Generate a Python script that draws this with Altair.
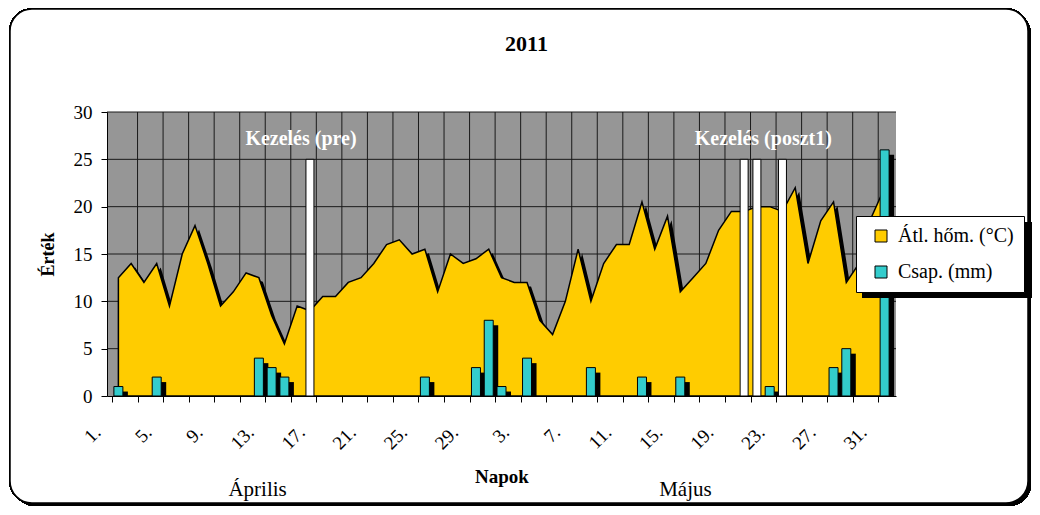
import json
import altair as alt
import pandas as pd

SERIF = "Liberation Serif"

# ---- data -------------------------------------------------------------
day_numbers = list(range(1, 31)) + list(range(1, 32))  # April 1-30, May 1-31
months = ["Április"] * 30 + ["Május"] * 31

temp = [12.5, 14, 12, 14, 9.5, 15, 18, 14, 9.5, 11,
        13, 12.5, 8.5, 5.5, 9.5, 9, 10.5, 10.5, 12, 12.5,
        14, 16, 16.5, 15, 15.5, 11, 15, 14, 14.5, 15.5,
        12.5, 12, 12, 8, 6.5, 10, 15.5, 10, 14, 16,
        16, 20.5, 15.5, 19, 11, 12.5, 14, 17.5, 19.5, 19.5,
        20, 20, 19.5, 22, 14, 18.5, 20.5, 12, 14, 19,
        22]

precip = [1, 0, 0, 2, 0, 0, 0, 0, 0, 0,
          0, 4, 3, 2, 0, 0, 0, 0, 0, 0,
          0, 0, 0, 0, 2, 0, 0, 0, 3, 8,
          1, 0, 4, 0, 0, 0, 0, 3, 0, 0,
          0, 2, 0, 0, 2, 0, 0, 0, 0, 0,
          0, 1, 0, 0, 0, 0, 3, 5, 0, 0,
          26]

kezeles = [0] * 15 + [25] + [0] * 33 + [25, 25, 0, 25] + [0] * 8

x_tick_labels = ["1.", "5.", "9.", "13.", "17.", "21.", "25.", "29.",
                 "3.", "7.", "11.", "15.", "19.", "23.", "27.", "31."]
y_tick_values = [0, 5, 10, 15, 20, 25, 30]

note_labels = ["Kezelés (pre)", "Kezelés (poszt1)"]
month_labels = ["Április", "Május"]
series_names = ["Átl. hőm. (°C)", "Csap. (mm)"]

# ---- layout helpers -----------------------------------------------------
W, H = 789, 284
n = len(day_numbers)
idx = list(range(n))
x_tick_values = [-0.5 + 2 * k for k in range(31)]
tick_text = [x_tick_labels[k // 2] if k % 2 == 0 else "" for k in range(31)]
label_expr = json.dumps(tick_text, ensure_ascii=False) + "[round((datum.value + 0.5) / 2)]"

df = pd.DataFrame({"idx": idx, "nap": day_numbers, "honap": months,
                   "temp": temp, "csap": precip, "kez": kezeles,
                   "s_temp": [series_names[0]] * n, "s_csap": [series_names[1]] * n})

xscale = alt.Scale(domain=[-0.5, n - 0.5], nice=False, zero=False)
yscale = alt.Scale(domain=[0, 30], nice=False)

xaxis = alt.Axis(values=x_tick_values, labelExpr=label_expr, labelAngle=315,
                 labelAlign="right", labelBaseline="middle", labelFont=SERIF,
                 labelFontSize=19, labelColor="black", labelPadding=27,
                 labelOffset=-15, labelOverlap=False, labelFlush=False, labelBound=False,
                 tickSize=6, tickColor="black", domainColor="black", grid=False,
                 title="Napok", titleFont=SERIF, titleFontSize=19, titleFontWeight="bold",
                 titleColor="black", titleY=80, titleBaseline="middle", zindex=1)
yaxis = alt.Axis(values=y_tick_values, labelFont=SERIF, labelFontSize=19,
                 labelColor="black", labelPadding=9, tickSize=6, tickColor="black",
                 domainColor="black", grid=False, title="Érték", titleFont=SERIF,
                 titleFontSize=18, titleFontWeight="bold", titleColor="black",
                 titleX=-59, titleY=H / 2, titleBaseline="middle", zindex=1)


def X(field):
    return alt.X(field, type="quantitative", scale=xscale, axis=xaxis)


def Y(field):
    return alt.Y(field, type="quantitative", scale=yscale, axis=yaxis)


color_scale = alt.Scale(domain=series_names, range=["#FFCC00", "#33CCCC"])
legend = alt.Legend(orient="none", legendX=749, legendY=104, title=None,
                    fillColor="white", strokeColor="black", padding=10,
                    rowPadding=16, symbolType="square", symbolSize=144,
                    symbolStrokeColor="black", symbolStrokeWidth=1,
                    symbolOffset=5, labelOffset=7, labelFont=SERIF,
                    labelFontSize=20, labelColor="black", direction="vertical")

base = alt.Chart(df)

# frame of the whole chart
frame_shadow = base.mark_rect(color="black", cornerRadius=22).encode(
    x=alt.value(-94), x2=alt.value(924), y=alt.value(-100), y2=alt.value(394))
frame = base.mark_rect(fill="white", stroke="black", strokeWidth=1.5, cornerRadius=22).encode(
    x=alt.value(-97), x2=alt.value(921), y=alt.value(-103), y2=alt.value(391))

plot_bg = base.mark_rect(color="#969696").encode(
    x=alt.value(0), x2=alt.value(W), y=alt.value(0), y2=alt.value(H))

hgrid = alt.Chart(pd.DataFrame({"v": y_tick_values[1:]})).mark_rule(
    color="#1a1a1a", strokeWidth=1).encode(y=Y("v"), x=alt.value(0), x2=alt.value(W))
vgrid = alt.Chart(pd.DataFrame({"t": x_tick_values[1:]})).mark_rule(
    color="#1a1a1a", strokeWidth=1).encode(x=X("t"), y=alt.value(0), y2=alt.value(H))

area_shadow = base.mark_area(color="black", xOffset=4, yOffset=4, clip=True).encode(
    x=X("idx"), y=Y("temp"))
area = base.mark_area(stroke="black", strokeWidth=1.5, opacity=1).encode(
    x=X("idx"), y=Y("temp"),
    color=alt.Color("s_temp:N", scale=color_scale, legend=legend))

bar_shadow = base.transform_filter("datum.csap > 0").mark_bar(
    size=9, color="black", xOffset=5, yOffset=5, clip=True).encode(x=X("idx"), y=Y("csap"))
bars = base.transform_filter("datum.csap > 0").mark_bar(
    size=9, stroke="black", strokeWidth=1, opacity=1).encode(
    x=X("idx"), y=Y("csap"),
    color=alt.Color("s_csap:N", scale=color_scale, legend=legend))

kez_bars = base.transform_filter("datum.kez > 0").mark_bar(
    size=8, fill="white", stroke="black", strokeWidth=1).encode(x=X("idx"), y=Y("kez"))

notes = alt.Chart(pd.DataFrame({"label": note_labels, "x": [14.3, 50.5], "y": [27.2, 27.2]})).mark_text(
    font=SERIF, fontSize=20, fontWeight="bold", color="white", baseline="middle").encode(
    x=X("x"), y=Y("y"), text="label:N")

month_text = alt.Chart(pd.DataFrame({"label": month_labels, "x": [10.9, 44.4]})).mark_text(
    font=SERIF, fontSize=21, color="black", baseline="alphabetic").encode(
    x=X("x"), y=alt.value(384), text="label:N")

legend_shadow = base.mark_rect(color="black").encode(
    x=alt.value(755), x2=alt.value(930), y=alt.value(110), y2=alt.value(186))

chart = alt.layer(
    frame_shadow, frame, plot_bg, hgrid, vgrid, area_shadow, area,
    bar_shadow, bars, kez_bars, notes, month_text, legend_shadow
).properties(
    width=W, height=H,
    padding={"left": 99, "top": 104, "right": 136, "bottom": 111},
    autosize=alt.AutoSizeParams(type="none"),
    title=alt.TitleParams("2011", font=SERIF, fontSize=22, fontWeight="bold",
                          color="black", anchor="middle", frame="group",
                          baseline="alphabetic", offset=0, dy=65, dx=25),
).configure_view(strokeWidth=0)

chart.save("out.html", embed_options={"renderer": "svg", "actions": False})
